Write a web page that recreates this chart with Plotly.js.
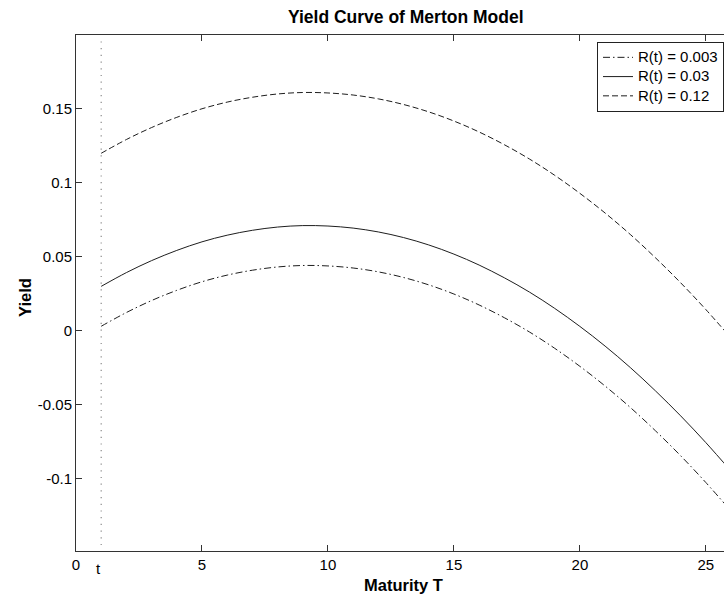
<!DOCTYPE html>
<html>
<head>
<meta charset="utf-8">
<script src="https://cdn.plot.ly/plotly-3.0.1.min.js"></script>
<style>
  html, body { margin: 0; padding: 0; background: #fff; overflow: hidden; }
  #chart { width: 724px; height: 600px; }
</style>
</head>
<body>
<div id="chart"></div>
<script>
// Maturity grid T (years) and current time t
const tNow = 1;
const maturity = [1, 2, 3, 4, 5, 6, 7, 8, 9, 10, 11, 12, 13, 14, 15, 16, 17, 18, 19, 20, 21, 22, 23, 24, 25, 26];

// Yield curves for three short-rate levels R(t)
const yieldR0003 = [0.0030, 0.0123, 0.0204, 0.0273, 0.0331, 0.0376, 0.0409, 0.0431, 0.0441, 0.0438, 0.0424, 0.0398, 0.0360,
                    0.0310, 0.0248, 0.0174, 0.0088, -0.0009, -0.0119, -0.0241, -0.0374, -0.0519, -0.0677, -0.0846, -0.1027, -0.1220];
const yieldR003  = [0.0300, 0.0393, 0.0474, 0.0543, 0.0601, 0.0646, 0.0679, 0.0701, 0.0711, 0.0708, 0.0694, 0.0668, 0.0630,
                    0.0580, 0.0518, 0.0444, 0.0358, 0.0261, 0.0151, 0.0029, -0.0104, -0.0249, -0.0407, -0.0576, -0.0757, -0.0950];
const yieldR012  = [0.1200, 0.1293, 0.1374, 0.1443, 0.1501, 0.1546, 0.1579, 0.1601, 0.1611, 0.1608, 0.1594, 0.1568, 0.1530,
                    0.1480, 0.1418, 0.1344, 0.1258, 0.1161, 0.1051, 0.0929, 0.0796, 0.0651, 0.0493, 0.0324, 0.0143, -0.0050];

const seriesNames = ['R(t) = 0.003', 'R(t) = 0.03', 'R(t) = 0.12'];

// Axis ticks
const xTickVals = [0, 5, 10, 15, 20, 25];
const xTickText = ['0', '5', '10', '15', '20', '25'];
const yTickVals = [-0.1, -0.05, 0, 0.05, 0.1, 0.15];
const yTickText = ['-0.1', '-0.05', '0', '0.05', '0.1', '0.15'];

// Extent of the vertical marker at t
const markerSpan = [-0.145, 0.198];

const FONT = 'Liberation Sans, Arial, Helvetica, sans-serif';
const INK = '#1e1e1e';

// Legend entries use a larger glyph size than the compact row spacing
const legendLabel = s => '<span style="font-size:15px">' + s + '</span>';

const traces = [
  {
    x: [tNow, tNow], y: markerSpan, mode: 'lines', showlegend: false, hoverinfo: 'skip',
    line: { color: '#8a8a8a', width: 1.2, dash: '1.2px,5.5px' }
  },
  {
    x: maturity, y: yieldR0003, name: legendLabel(seriesNames[0]), mode: 'lines',
    line: { color: INK, width: 1, dash: '7px,3px,1.5px,3px', shape: 'spline' }
  },
  {
    x: maturity, y: yieldR003, name: legendLabel(seriesNames[1]), mode: 'lines',
    line: { color: INK, width: 1, shape: 'spline' }
  },
  {
    x: maturity, y: yieldR012, name: legendLabel(seriesNames[2]), mode: 'lines',
    line: { color: INK, width: 1, dash: '6px,3px', shape: 'spline' }
  }
];

const layout = {
  width: 724, height: 600,
  margin: { l: 76, r: 0, t: 35, b: 49, pad: 0 },
  paper_bgcolor: '#fff', plot_bgcolor: '#fff',
  font: { family: FONT, size: 15, color: '#000' },
  title: {
    text: '<b>Yield Curve of Merton Model</b>',
    font: { family: FONT, size: 17.5, color: '#000' },
    xref: 'container', x: 0.5604, xanchor: 'center',
    yref: 'container', y: 1 - 17 / 600, yanchor: 'middle'
  },
  xaxis: {
    range: [0, 25.72], tickvals: xTickVals, ticktext: xTickText,
    ticks: 'inside', ticklen: 6, tickcolor: '#333', tickwidth: 1,
    showline: true, linecolor: '#333', linewidth: 1, mirror: 'ticks',
    showgrid: false, zeroline: false, fixedrange: true,
    tickfont: { family: FONT, size: 15, color: '#000' }
  },
  yaxis: {
    range: [-0.149, 0.2], tickvals: yTickVals, ticktext: yTickText,
    ticks: 'inside', ticklen: 6, tickcolor: '#333', tickwidth: 1,
    showline: true, linecolor: '#333', linewidth: 1, mirror: false,
    showgrid: false, zeroline: false, fixedrange: true,
    tickfont: { family: FONT, size: 15, color: '#000' }
  },
  legend: {
    x: 1, xanchor: 'right', y: 0.987, yanchor: 'top',
    bgcolor: '#fff', bordercolor: '#222', borderwidth: 1,
    font: { family: FONT, size: 12.5, color: '#000' },
    itemwidth: 30, tracegroupgap: 0
  },
  annotations: [
    {
      text: 't', xref: 'x', x: tNow, yref: 'paper', y: 0, yanchor: 'top',
      xshift: -3, yshift: -7, showarrow: false,
      font: { family: FONT, size: 15, color: '#000' }
    },
    {
      text: '<b>Maturity T</b>', xref: 'paper', x: (403 - 76) / 648, xanchor: 'center',
      yref: 'paper', y: 0, yanchor: 'middle', yshift: -34, showarrow: false,
      font: { family: FONT, size: 16.5, color: '#000' }
    },
    {
      text: '<b>Yield</b>', textangle: -90, xref: 'paper', x: 0, xanchor: 'center', xshift: -51,
      yref: 'paper', y: (551 - 298) / 516, yanchor: 'middle', showarrow: false,
      font: { family: FONT, size: 16.5, color: '#000' }
    }
  ],
  showlegend: true
};

Plotly.newPlot('chart', traces, layout, { displayModeBar: false, staticPlot: true });
</script>
</body>
</html>
